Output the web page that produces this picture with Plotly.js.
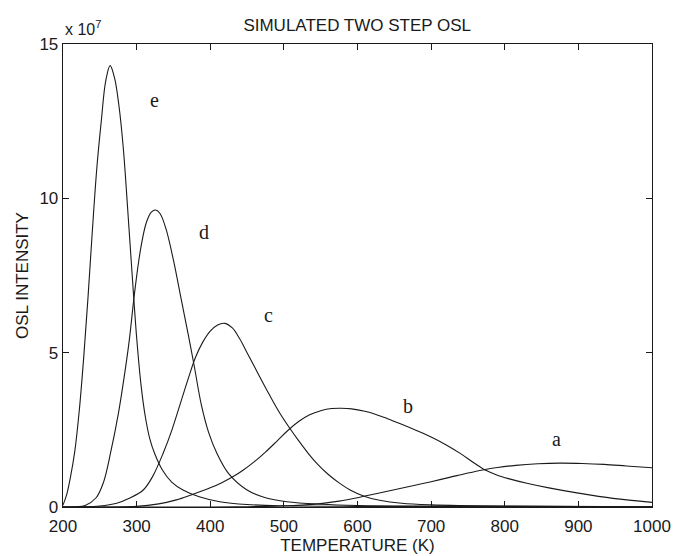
<!DOCTYPE html>
<html>
<head>
<meta charset="utf-8">
<script src="https://cdn.plot.ly/plotly-3.0.1.min.js"></script>
<style>html,body{margin:0;padding:0;background:#fff;}#chart{width:674px;height:556px;}</style>
</head>
<body>
<div id="chart"></div>
<script>
// Temperature (K) and OSL intensity (x 10^7)
const eT = [200,205,210,216,222,228,234,240,246,252,258,264,270,276,282,288,294,300,306,312,318,325,335,348,363,385,413,450,500,600,800,1000];
const eV = [0.06,0.4,0.95,1.8,3.1,4.8,6.8,9.0,11.0,12.5,13.8,14.3,13.9,13.0,11.6,9.6,7.5,5.5,3.95,2.9,2.2,1.7,1.2,0.8,0.55,0.33,0.17,0.08,0.04,0.02,0.01,0.0];

const dT = [200,218,230,245,255,265,275,283,290,297,305,313,320,326,332,340,350,360,370,378,388,398,409,425,450,475,504,550,600,700,800,1000];
const dV = [0,0.01,0.05,0.3,0.8,1.8,3.0,4.2,5.4,6.9,8.3,9.2,9.55,9.62,9.5,9.0,8.0,6.8,5.6,4.6,3.3,2.4,1.74,1.08,0.55,0.3,0.17,0.09,0.05,0.03,0.02,0.01];

const cT = [200,250,273,290,309,322,336,348,360,370,380,390,400,410,420,430,440,450,465,480,495,508,520,533,546,560,575,590,610,630,660,700,800,1000];
const cV = [0,0.03,0.12,0.28,0.55,1.0,1.74,2.5,3.4,4.15,4.85,5.35,5.7,5.9,5.95,5.8,5.45,5.0,4.32,3.65,3.02,2.55,2.15,1.74,1.38,1.06,0.78,0.55,0.34,0.22,0.12,0.07,0.03,0.01];

const bT = [200,300,330,354,375,400,415,430,445,460,475,490,505,520,535,550,565,578,592,610,625,640,660,680,700,720,740,760,775,790,805,830,860,900,947,1000];
const bV = [0,0.02,0.1,0.23,0.4,0.62,0.78,0.97,1.2,1.47,1.78,2.12,2.47,2.77,2.99,3.12,3.19,3.2,3.18,3.1,3.0,2.87,2.68,2.48,2.27,2.02,1.73,1.4,1.18,1.03,0.92,0.77,0.62,0.45,0.28,0.15];

const aT = [200,400,450,500,525,550,575,600,625,650,675,700,725,750,770,790,815,845,875,905,935,965,1000];
const aV = [0,0,0.01,0.03,0.06,0.11,0.19,0.3,0.43,0.56,0.69,0.82,0.96,1.1,1.2,1.28,1.35,1.4,1.42,1.41,1.38,1.33,1.27];

const curveNames = ['a','b','c','d','e'];
const labelT = [870,669,479,391,324];
const labelV = [2.2,3.28,6.22,8.92,13.18];

const xTicks = [200,300,400,500,600,700,800,900,1000];
const yTicks = [0,5,10,15];

const ink = '#1a1a1a';
const series = [[aT,aV],[bT,bV],[cT,cV],[dT,dV],[eT,eV]];
const traces = series.map((s,i)=>({
  x: s[0], y: s[1], type:'scatter', mode:'lines', name: curveNames[i],
  line:{color:ink, width:1.1, shape:'spline', smoothing:1}, hoverinfo:'skip'
}));

const annotations = curveNames.map((n,i)=>({
  x: labelT[i], y: labelV[i], xref:'x', yref:'y', text:n, showarrow:false,
  font:{family:'Liberation Serif, Times New Roman, serif', size:20, color:ink}
}));
annotations.push({
  xref:'paper', yref:'paper', x:0, y:1, xanchor:'left', yanchor:'bottom', yshift:4,
  text:'x 10<sup>7</sup>', showarrow:false,
  font:{family:'Liberation Sans, Arial, sans-serif', size:16, color:ink}
});

const layout = {
  width:674, height:556,
  margin:{l:63, r:22, t:44, b:49},
  paper_bgcolor:'#fff', plot_bgcolor:'#fff',
  showlegend:false,
  font:{family:'Liberation Sans, Arial, sans-serif', size:17, color:ink},
  title:{text:'SIMULATED TWO STEP OSL', x:0.53, xanchor:'center', y:0.955, yanchor:'middle',
         font:{family:'Liberation Sans, Arial, sans-serif', size:17, color:ink}},
  xaxis:{range:[200,1000], tickvals:xTicks, ticktext:xTicks.map(String),
         ticks:'inside', ticklen:6, tickcolor:ink, showline:true, linecolor:ink, linewidth:1.3,
         mirror:'ticks', showgrid:false, zeroline:false, ticklabelstandoff:3,
         title:{text:'TEMPERATURE (K)', standoff:4, font:{size:17}}},
  yaxis:{range:[0,15], tickvals:yTicks, ticktext:yTicks.map(String),
         ticks:'inside', ticklen:6, tickcolor:ink, showline:true, linecolor:ink, linewidth:1.3,
         mirror:'ticks', showgrid:false, zeroline:false,
         title:{text:'OSL INTENSITY', standoff:6, font:{size:17}}},
  annotations: annotations
};

Plotly.newPlot('chart', traces, layout, {displayModeBar:false, staticPlot:true});
</script>
</body>
</html>
